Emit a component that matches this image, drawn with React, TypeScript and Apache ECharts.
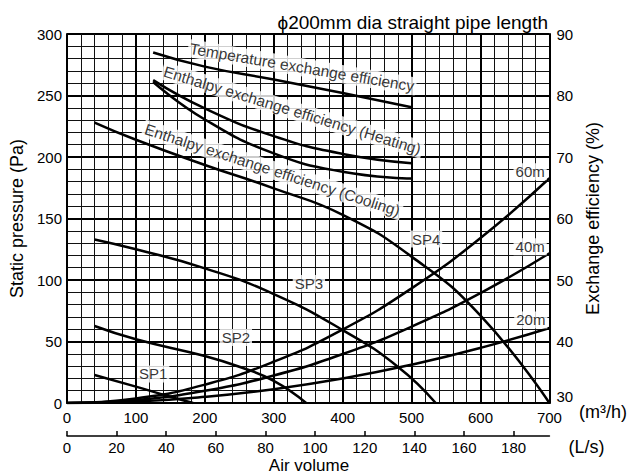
import React, { useEffect, useRef } from 'react';
import * as echarts from 'echarts';

const FONT = "'Liberation Sans', Arial, Helvetica, sans-serif";

// Axes
const flowMin = 0;
const flowMax = 700; // m3/h
const flowInterval = 100;
const pressureMin = 0;
const pressureMax = 300;
const pressureInterval = 50;
const effMin = 30;
const effMax = 90;
const effInterval = 10;
const lsTicks = [0, 20, 40, 60, 80, 100, 120, 140, 160, 180]; // L/s

// Fan curves (m3/h, Pa)
const sp1 = [[40, 22.8], [100, 13.3], [150, 5.1], [183, 0]];
const sp2 = [[40, 62.6], [100, 51.8], [200, 38.2], [250, 29.5], [300, 18], [347, 0]];
const sp3 = [[40, 133], [100, 125], [200, 109.5], [300, 88.6], [400, 59.3], [480, 29.5], [535, 0]];
const sp4 = [[40, 228], [100, 214], [200, 193.5], [300, 174.5], [400, 153], [500, 119], [600, 71], [700, 0]];

// Duct resistance curves (m3/h, Pa)
const duct20 = [[0, 0], [100, 1.2], [200, 5], [300, 11.2], [400, 19.9], [500, 31.1], [600, 44.8], [700, 61]];
const duct40 = [[0, 0], [100, 2.5], [200, 10], [300, 22.4], [400, 39.8], [500, 62.1], [600, 89.4], [700, 121.7]];
const duct60 = [[0, 0], [100, 3.7], [200, 14.9], [300, 33.6], [400, 59.7], [500, 93.2], [600, 134.2], [700, 182.7]];

// Exchange efficiency curves (m3/h, %)
const tempEff = [[125, 87], [200, 84.7], [300, 82.6], [400, 80.4], [500, 78.1]];
const heatEff = [[125, 82.5], [200, 77.9], [300, 73.4], [400, 70.5], [500, 69]];
const coolEff = [[125, 82.2], [200, 76.1], [300, 70.6], [400, 67.6], [500, 66.5]];

// Curve labels: [text, m3/h, Pa]
const pressureLabels: [string, number, number][] = [
  ['SP1', 125, 23.6],
  ['SP2', 245, 53.3],
  ['SP3', 351, 97.2],
  ['SP4', 521, 133.3],
  ['60m', 672, 188],
  ['40m', 672, 127],
  ['20m', 673, 67.5],
];
// [text, m3/h, %, rotation deg]
const effLabels: [string, number, number, number][] = [
  ['Temperature exchange efficiency', 341, 84.6, -9.6],
  ['Enthalpy exchange efficiency (Heating)', 327, 77.6, -17],
  ['Enthalpy exchange efficiency (Cooling)', 298, 67.9, -18],
];

const lineSeries = (data: number[][], yAxisIndex: number) => ({
  type: 'line',
  data,
  xAxisIndex: 0,
  yAxisIndex,
  smooth: true,
  symbol: 'none',
  silent: true,
  z: 3,
  lineStyle: { color: '#000', width: 2.5 },
});

const labelBase = {
  show: true,
  position: 'inside',
  formatter: '{b}',
  color: '#000',
  fontSize: 15,
  fontFamily: FONT,
  backgroundColor: '#fff',
  padding: [1, 2],
};

export default function App() {
  const ref = useRef<HTMLDivElement>(null);
  useEffect(() => {
    document.body.style.margin = '0';
    const chart = echarts.init(ref.current!, null, { renderer: 'svg' });
    const option = {
      animation: false,
      textStyle: { fontFamily: FONT, color: '#000' },
      grid: { left: 67, right: 80, top: 34, bottom: 72 },
      graphic: [
        {
          type: 'text',
          x: 548,
          y: 22,
          style: {
            text: 'ϕ200mm dia straight pipe length',
            align: 'right',
            verticalAlign: 'middle',
            fontSize: 19,
            fontFamily: FONT,
            fill: '#000',
          },
        },
        {
          type: 'text',
          x: 309,
          y: 465,
          style: {
            text: 'Air volume',
            align: 'center',
            verticalAlign: 'middle',
            fontSize: 17,
            fontFamily: FONT,
            fill: '#000',
          },
        },
      ],
      xAxis: [
        {
          type: 'value',
          min: flowMin,
          max: flowMax,
          interval: flowInterval,
          position: 'bottom',
          name: '(m³/h)',
          nameLocation: 'end',
          nameGap: 19,
          nameTextStyle: { fontSize: 18, verticalAlign: 'top', color: '#000', fontFamily: FONT },
          axisLine: { show: true, onZero: false, lineStyle: { color: '#000', width: 2 } },
          axisTick: { show: false },
          axisLabel: { fontSize: 15, color: '#000', margin: 7, fontFamily: FONT },
          splitLine: { show: true, lineStyle: { color: '#000', width: 2 } },
          minorTick: { show: false, splitNumber: 5 },
          minorSplitLine: { show: true, lineStyle: { color: '#111', width: 1 } },
        },
        {
          type: 'value',
          min: 0,
          max: flowMax / 3.6,
          position: 'bottom',
          offset: 33,
          name: '(L/s)',
          nameLocation: 'end',
          nameGap: 19,
          nameTextStyle: { fontSize: 18, verticalAlign: 'top', padding: [2, 0, 0, 0], color: '#000', fontFamily: FONT },
          axisLine: { show: true, onZero: false, lineStyle: { color: '#000', width: 1.5 } },
          axisTick: { show: true, inside: true, length: 5, customValues: lsTicks, lineStyle: { color: '#000', width: 1.5 } },
          axisLabel: { fontSize: 15, color: '#000', margin: 4, customValues: lsTicks, fontFamily: FONT },
          splitLine: { show: false },
        },
      ],
      yAxis: [
        {
          type: 'value',
          min: pressureMin,
          max: pressureMax,
          interval: pressureInterval,
          position: 'left',
          name: 'Static pressure (Pa)',
          nameLocation: 'middle',
          nameRotate: 90,
          nameGap: 35,
          nameTextStyle: { fontSize: 18, color: '#000', fontFamily: FONT },
          axisLine: { show: true, onZero: false, lineStyle: { color: '#000', width: 2 } },
          axisTick: { show: false },
          axisLabel: { fontSize: 15, color: '#000', margin: 5, fontFamily: FONT },
          splitLine: { show: true, lineStyle: { color: '#000', width: 2 } },
          minorTick: { show: false, splitNumber: 5 },
          minorSplitLine: { show: true, lineStyle: { color: '#111', width: 1 } },
        },
        {
          type: 'value',
          min: effMin,
          max: effMax,
          interval: effInterval,
          position: 'right',
          name: 'Exchange efficiency (%)',
          nameLocation: 'middle',
          nameRotate: 90,
          nameGap: 30,
          nameTextStyle: { fontSize: 18, color: '#000', fontFamily: FONT },
          axisLine: { show: true, onZero: false, lineStyle: { color: '#000', width: 2 } },
          axisTick: { show: false },
          axisLabel: {
            fontSize: 15,
            color: '#000',
            margin: 7,
            fontFamily: FONT,
            formatter: (v: number) => (v === effMin ? '{b|' + v + '}' : String(v)),
            rich: { b: { fontSize: 15, fontFamily: FONT, color: '#000', padding: [0, 0, 14, 0] } },
          },
          splitLine: { show: false },
        },
      ],
      series: [
        lineSeries(duct20, 0),
        lineSeries(duct40, 0),
        lineSeries(duct60, 0),
        lineSeries(sp1, 0),
        lineSeries(sp2, 0),
        lineSeries(sp3, 0),
        lineSeries(sp4, 0),
        lineSeries(tempEff, 1),
        lineSeries(heatEff, 1),
        lineSeries(coolEff, 1),
        {
          type: 'scatter',
          xAxisIndex: 0,
          yAxisIndex: 0,
          symbolSize: 0,
          silent: true,
          z: 10,
          itemStyle: { color: 'transparent' },
          label: labelBase,
          data: pressureLabels.map(([name, x, y]) => ({ name, value: [x, y] })),
        },
        {
          type: 'scatter',
          xAxisIndex: 0,
          yAxisIndex: 1,
          symbolSize: 0,
          silent: true,
          z: 10,
          itemStyle: { color: 'transparent' },
          label: { ...labelBase, fontSize: 15.5 },
          data: effLabels.map(([name, x, y, r]) => ({ name, value: [x, y], label: { rotate: r } })),
        },
      ],
    };
    chart.setOption(option as any);
    return () => chart.dispose();
  }, []);
  return <div ref={ref} style={{ width: 630, height: 475 }} />;
}
